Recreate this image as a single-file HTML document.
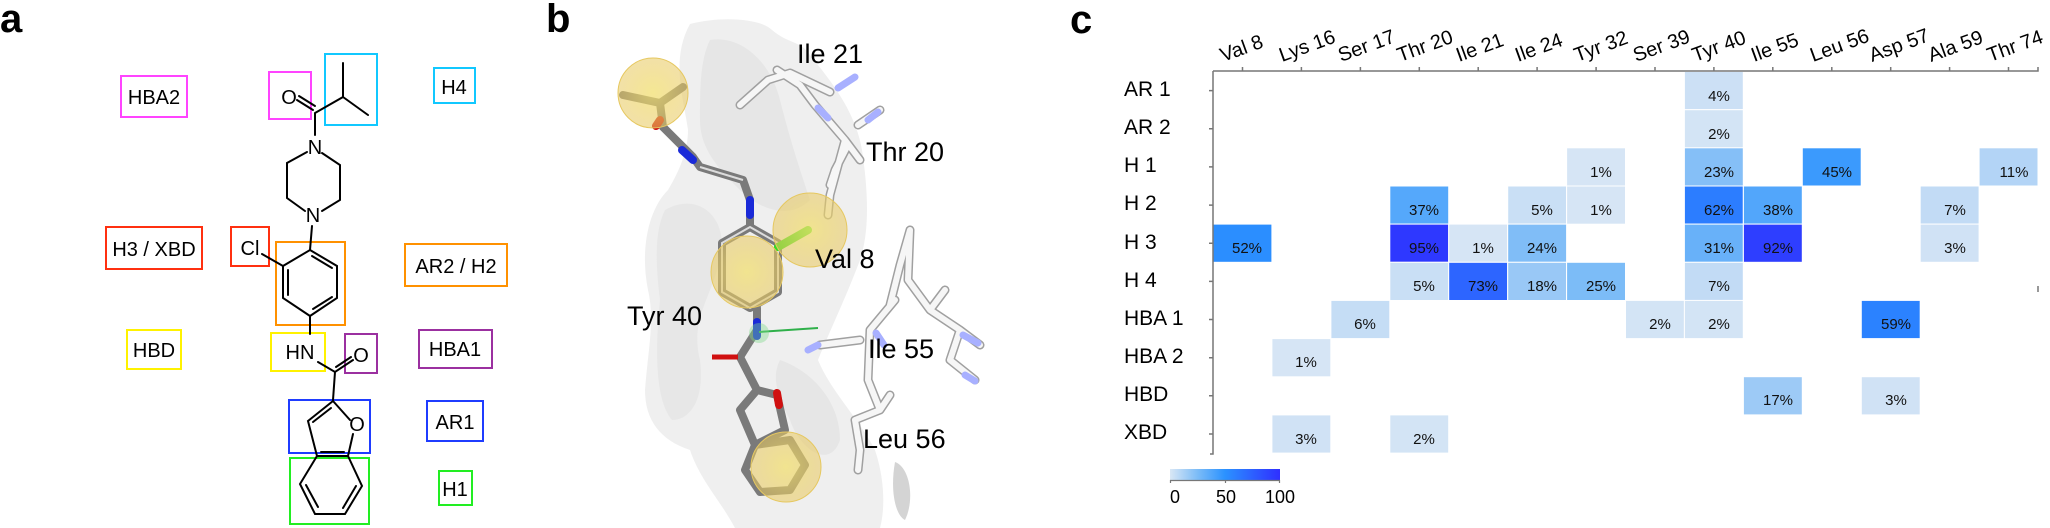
<!DOCTYPE html>
<html><head><meta charset="utf-8"><style>
html,body{margin:0;padding:0;background:#fff;}
svg{display:block;}
text{font-family:"Liberation Sans",Arial,sans-serif;}
.v{font-family:"DejaVu Sans",sans-serif;font-size:15px;fill:#111;}
</style></head><body>
<svg width="2050" height="528" viewBox="0 0 2050 528" xmlns="http://www.w3.org/2000/svg">
<defs>
<linearGradient id="cb" x1="0" x2="1" y1="0" y2="0">
<stop offset="0" stop-color="#d9e7f5"/><stop offset="0.25" stop-color="#7cbcf7"/><stop offset="0.5" stop-color="#2b92ff"/><stop offset="0.75" stop-color="#2d60ff"/><stop offset="1" stop-color="#2f2fff"/>
</linearGradient>
<radialGradient id="ys" cx="0.5" cy="0.5" r="0.5"><stop offset="0" stop-color="#f2e070" stop-opacity="0.75"/><stop offset="1" stop-color="#e8c860" stop-opacity="0.55"/></radialGradient>
</defs>

<text x="0" y="32" font-size="40" font-weight="bold">a</text>
<text x="546" y="32" font-size="40" font-weight="bold">b</text>
<text x="1070" y="33" font-size="40" font-weight="bold">c</text>

<!-- ============ PANEL A ============ -->
<g fill="none" stroke-width="2">
<rect x="121" y="76" width="66" height="41" stroke="#ff44ff"/>
<rect x="269" y="72" width="42" height="47" stroke="#ff44ff"/>
<rect x="325" y="54" width="52" height="71" stroke="#11c8ff"/>
<rect x="434" y="68" width="41" height="35" stroke="#11c8ff"/>
<rect x="106" y="227" width="96" height="42" stroke="#ff3010"/>
<rect x="231" y="227" width="38" height="39" stroke="#ff3010"/>
<rect x="276" y="242" width="69" height="83" stroke="#ff9100"/>
<rect x="405" y="244" width="102" height="42" stroke="#ff9100"/>
<rect x="127" y="330" width="54" height="39" stroke="#fff200"/>
<rect x="271" y="333" width="54" height="38" stroke="#fff200"/>
<rect x="345" y="334" width="32" height="39" stroke="#9b30a0"/>
<rect x="419" y="330" width="73" height="38" stroke="#9b30a0"/>
<rect x="289" y="400" width="81" height="53" stroke="#1f3cff"/>
<rect x="427" y="401" width="56" height="40" stroke="#1f3cff"/>
<rect x="290" y="458" width="79" height="66" stroke="#22ee22"/>
<rect x="439" y="471" width="33" height="34" stroke="#22ee22"/>
</g>
<g font-size="20" fill="#000" text-anchor="middle">
<text x="154" y="104">HBA2</text>
<text x="454" y="94">H4</text>
<text x="154" y="256">H3 / XBD</text>
<text x="456" y="273">AR2 / H2</text>
<text x="154" y="357">HBD</text>
<text x="455" y="356">HBA1</text>
<text x="455" y="429">AR1</text>
<text x="455" y="496">H1</text>
<text x="289" y="104">O</text>
<text x="315" y="154">N</text>
<text x="313" y="222">N</text>
<text x="250" y="255">Cl</text>
<text x="300" y="359">HN</text>
<text x="361" y="362">O</text>
<text x="357" y="431">O</text>
</g>
<g stroke="#000" stroke-width="2" fill="none" stroke-linecap="round">
<path d="M297 100 L313 110 M299 96 L315 106"/>
<path d="M315 113 L343 97 L343 63 M343 97 L368 115 M315 113 L315 135"/>
<path d="M322 153 L340 165 L340 200 L322 211 M305 211 L287 198 L287 163 L307 152"/>
<path d="M312 226 L310 250"/>
<path d="M310 250 L337 266 L337 298 L310 316 L283 298 L283 266 Z"/>
<path d="M312 256 L332 268 M288 270 L288 295 M313 309 L332 297"/>
<path d="M283 266 L262 254"/>
<path d="M310 316 L310 334"/>
<path d="M318 362 L335 372 L353 360 M336 367 L351 357 M335 372 L333 400"/>
<path d="M333 401 L308 421 L317 456 L348 456 L353 434 M350 420 L333 401 M313 422 L331 408 M321 452 L344 452"/>
<path d="M317 456 L300 484 L315 514 L345 514 L362 486 L348 456 M306 485 L318 507 M356 486 L343 508"/>
</g>

<!-- ============ PANEL B ============ -->
<g>
<path d="M690 24 C720 16 760 18 772 30 C790 45 800 40 810 55 C830 80 855 110 862 150 C868 190 870 230 860 260 C845 300 830 330 818 360 C830 390 860 420 875 450 C885 480 885 510 880 528 L735 528 C720 500 700 480 690 450 C660 440 645 420 645 390 C648 350 655 320 648 290 C640 250 648 210 668 190 C680 170 688 150 688 130 C684 100 670 60 690 24 Z" fill="#efefef"/>
<path d="M710 40 C740 35 770 60 780 100 C790 140 800 170 810 200 C790 220 760 210 740 190 C720 170 700 150 700 120 C700 90 700 60 710 40 Z" fill="#e2e2e2" opacity="0.7"/>
<path d="M665 210 C700 190 730 220 720 260 C710 300 690 320 700 360 C705 400 690 420 672 420 C655 400 655 350 660 300 C655 260 655 230 665 210 Z" fill="#e4e4e4" opacity="0.7"/>
<path d="M895 462 C910 467 915 500 905 520 C895 515 890 490 895 462 Z" fill="#d4d4d4"/>
<path d="M780 360 C810 370 840 400 840 440 C830 470 800 450 790 420 C780 400 770 380 780 360 Z" fill="#e2e2e2" opacity="0.7"/>
</g>
<g stroke="#a0a0a0" stroke-width="9" stroke-linecap="round" stroke-linejoin="round" fill="none">
<path d="M740 105 L768 80 L790 73 M777 70 L800 85 L815 105 L845 140 L860 160 M790 73 L830 92 M858 125 L880 110 M848 145 L835 170 L830 185 M845 140 L830 195 L828 215"/>
<path d="M890 305 L900 265 L910 230 M910 230 L908 280 L930 310 L945 290 M930 310 L960 330 L980 345 M960 330 L950 360 L975 380 M895 300 L870 330 L868 380 L880 410 L855 420 L860 450 L858 470 M880 410 L890 395 M860 340 L820 345"/>
</g>
<g stroke="#f6f6f6" stroke-width="6" stroke-linecap="round" stroke-linejoin="round" fill="none">
<path d="M740 105 L768 80 L790 73 M777 70 L800 85 L815 105 L845 140 L860 160 M790 73 L830 92 M858 125 L880 110 M848 145 L835 170 L830 185 M845 140 L830 195 L828 215"/>
<path d="M890 305 L900 265 L910 230 M910 230 L908 280 L930 310 L945 290 M930 310 L960 330 L980 345 M960 330 L950 360 L975 380 M895 300 L870 330 L868 380 L880 410 L855 420 L860 450 L858 470 M880 410 L890 395 M860 340 L820 345"/>
</g>
<g stroke="#a8b0ff" stroke-width="7" stroke-linecap="round">
<path d="M818 108 L828 118 M838 88 L855 77 M868 120 L878 112 M963 335 L978 343 M965 375 L975 381 M818 345 L808 350 M876 333 L884 345"/>
</g>
<g stroke="#7a7a7a" stroke-width="8" stroke-linecap="round" stroke-linejoin="round" fill="none">
<path d="M623 95 L660 103 L683 87 M660 103 L663 127"/>
<path d="M663 127 L693 157 L700 167 L743 180 L750 200 L750 226"/>
<path d="M750 227 L778 243 L778 292 L750 308 L722 292 L722 243 Z"/>
<path d="M757 308 L757 330 L740 357 L757 390 L777 395 L785 430 M757 390 L740 410 L755 445 L785 430"/>
<path d="M755 445 L790 440 L805 465 L790 490 L760 492 L745 470 Z"/>
</g>
<g stroke="#dcdcdc" stroke-width="2" fill="none"><path d="M750 227 L778 243 L778 292 L750 308 L722 292 L722 243 Z"/><path d="M743 180 L700 167"/></g>
<g stroke-width="8" stroke-linecap="round">
<line x1="682" y1="150" x2="693" y2="160" stroke="#1a2ad8"/>
<line x1="750" y1="200" x2="750" y2="215" stroke="#1a2ad8"/>
<line x1="757" y1="322" x2="757" y2="336" stroke="#1a2ad8"/>
<line x1="660" y1="120" x2="656" y2="126" stroke="#cc1010"/>
<line x1="777" y1="393" x2="779" y2="405" stroke="#d01010"/>
<line x1="778" y1="247" x2="808" y2="230" stroke="#33dd22"/>
</g>
<line x1="712" y1="357" x2="738" y2="357" stroke="#d01010" stroke-width="5"/>
<line x1="759" y1="332" x2="818" y2="328" stroke="#2fb04a" stroke-width="2"/>
<circle cx="759" cy="333" r="10" fill="#7ed98a" opacity="0.4"/>
<g fill="url(#ys)" stroke="#e6c860" stroke-width="1">
<circle cx="653" cy="93" r="35"/>
<circle cx="810" cy="230" r="37"/>
<circle cx="747" cy="272" r="36"/>
<circle cx="786" cy="467" r="35"/>
</g>
<g font-size="27" fill="#000">
<text x="797" y="63">Ile 21</text>
<text x="866" y="161">Thr 20</text>
<text x="815" y="268">Val 8</text>
<text x="627" y="325">Tyr 40</text>
<text x="868" y="358">Ile 55</text>
<text x="863" y="448">Leu 56</text>
</g>

<!-- ============ PANEL C ============ -->
<g>
<g stroke="#fff" stroke-width="1">
<rect x="1684.4" y="71.5" width="58.9" height="38.2" fill="#cce0f5"/>
<rect x="1684.4" y="109.7" width="58.9" height="38.2" fill="#d3e4f5"/>
<rect x="1566.6" y="147.8" width="58.9" height="38.2" fill="#d6e5f5"/>
<rect x="1684.4" y="147.8" width="58.9" height="38.2" fill="#85bff7"/>
<rect x="1802.3" y="147.8" width="58.9" height="38.2" fill="#3b9afd"/>
<rect x="1979.1" y="147.8" width="58.9" height="38.2" fill="#b3d4f6"/>
<rect x="1389.8" y="186" width="58.9" height="38.2" fill="#55a8fb"/>
<rect x="1507.7" y="186" width="58.9" height="38.2" fill="#c9dff5"/>
<rect x="1566.6" y="186" width="58.9" height="38.2" fill="#d6e5f5"/>
<rect x="1684.4" y="186" width="58.9" height="38.2" fill="#2c7dff"/>
<rect x="1743.4" y="186" width="58.9" height="38.2" fill="#52a6fb"/>
<rect x="1920.2" y="186" width="58.9" height="38.2" fill="#c2dbf5"/>
<rect x="1213" y="224.1" width="58.9" height="38.2" fill="#2b8eff"/>
<rect x="1389.8" y="224.1" width="58.9" height="38.2" fill="#2e38ff"/>
<rect x="1448.7" y="224.1" width="58.9" height="38.2" fill="#d6e5f5"/>
<rect x="1507.7" y="224.1" width="58.9" height="38.2" fill="#80bdf7"/>
<rect x="1684.4" y="224.1" width="58.9" height="38.2" fill="#68b1f9"/>
<rect x="1743.4" y="224.1" width="58.9" height="38.2" fill="#2e3eff"/>
<rect x="1920.2" y="224.1" width="58.9" height="38.2" fill="#d0e2f5"/>
<rect x="1389.8" y="262.3" width="58.9" height="38.2" fill="#c9dff5"/>
<rect x="1448.7" y="262.3" width="58.9" height="38.2" fill="#2d65ff"/>
<rect x="1507.7" y="262.3" width="58.9" height="38.2" fill="#99c8f6"/>
<rect x="1566.6" y="262.3" width="58.9" height="38.2" fill="#7cbcf7"/>
<rect x="1684.4" y="262.3" width="58.9" height="38.2" fill="#c2dbf5"/>
<rect x="1330.9" y="300.4" width="58.9" height="38.2" fill="#c5ddf5"/>
<rect x="1625.5" y="300.4" width="58.9" height="38.2" fill="#d3e4f5"/>
<rect x="1684.4" y="300.4" width="58.9" height="38.2" fill="#d3e4f5"/>
<rect x="1861.3" y="300.4" width="58.9" height="38.2" fill="#2b82ff"/>
<rect x="1271.9" y="338.6" width="58.9" height="38.2" fill="#d6e5f5"/>
<rect x="1743.4" y="376.7" width="58.9" height="38.2" fill="#9dcaf6"/>
<rect x="1861.3" y="376.7" width="58.9" height="38.2" fill="#d0e2f5"/>
<rect x="1271.9" y="414.9" width="58.9" height="38.2" fill="#d0e2f5"/>
<rect x="1389.8" y="414.9" width="58.9" height="38.2" fill="#d3e4f5"/>
</g>
<g class="v" text-anchor="middle">
<text x="1719" y="101">4%</text>
<text x="1719" y="139">2%</text>
<text x="1601" y="177">1%</text><text x="1719" y="177">23%</text><text x="1837" y="177">45%</text><text x="2014" y="177">11%</text>
<text x="1424" y="215">37%</text><text x="1542" y="215">5%</text><text x="1601" y="215">1%</text><text x="1719" y="215">62%</text><text x="1778" y="215">38%</text><text x="1955" y="215">7%</text>
<text x="1247" y="253">52%</text><text x="1424" y="253">95%</text><text x="1483" y="253">1%</text><text x="1542" y="253">24%</text><text x="1719" y="253">31%</text><text x="1778" y="253">92%</text><text x="1955" y="253">3%</text>
<text x="1424" y="291">5%</text><text x="1483" y="291">73%</text><text x="1542" y="291">18%</text><text x="1601" y="291">25%</text><text x="1719" y="291">7%</text>
<text x="1365" y="329">6%</text><text x="1660" y="329">2%</text><text x="1719" y="329">2%</text><text x="1896" y="329">59%</text>
<text x="1306" y="367">1%</text>
<text x="1778" y="405">17%</text><text x="1896" y="405">3%</text>
<text x="1306" y="444">3%</text><text x="1424" y="444">2%</text>
</g>
<g stroke="#777" stroke-width="1.5" fill="none">
<path d="M1213 71 L2038 71 L2038 67"/>
<path d="M1213 71 L1213 454 L1210 454"/>
<path d="M1242.5 71v-4 M1301.4 71v-4 M1360.4 71v-4 M1419.3 71v-4 M1478.2 71v-4 M1537.1 71v-4 M1596.1 71v-4 M1655 71v-4 M1713.9 71v-4 M1772.8 71v-4 M1831.8 71v-4 M1890.7 71v-4 M1949.6 71v-4 M2008.5 71v-4"/>
<path d="M1213 90.6h-4 M1213 128.8h-4 M1213 166.9h-4 M1213 205.1h-4 M1213 243.2h-4 M1213 281.4h-4 M1213 319.5h-4 M1213 357.7h-4 M1213 395.8h-4 M1213 434h-4"/>
<path d="M2038 286v6"/>
</g>
<g font-size="20" fill="#000">
<text transform="translate(1223,62) rotate(-20)">Val 8</text>
<text transform="translate(1282,62) rotate(-20)">Lys 16</text>
<text transform="translate(1341,62) rotate(-20)">Ser 17</text>
<text transform="translate(1400,62) rotate(-20)">Thr 20</text>
<text transform="translate(1459,62) rotate(-20)">Ile 21</text>
<text transform="translate(1518,62) rotate(-20)">Ile 24</text>
<text transform="translate(1577,62) rotate(-20)">Tyr 32</text>
<text transform="translate(1636,62) rotate(-20)">Ser 39</text>
<text transform="translate(1695,62) rotate(-20)">Tyr 40</text>
<text transform="translate(1754,62) rotate(-20)">Ile 55</text>
<text transform="translate(1813,62) rotate(-20)">Leu 56</text>
<text transform="translate(1872,62) rotate(-20)">Asp 57</text>
<text transform="translate(1931,62) rotate(-20)">Ala 59</text>
<text transform="translate(1990,62) rotate(-20)">Thr 74</text>
</g>
<g font-size="21" fill="#000">
<text x="1124" y="96">AR 1</text>
<text x="1124" y="134">AR 2</text>
<text x="1124" y="172">H 1</text>
<text x="1124" y="210">H 2</text>
<text x="1124" y="249">H 3</text>
<text x="1124" y="287">H 4</text>
<text x="1124" y="325">HBA 1</text>
<text x="1124" y="363">HBA 2</text>
<text x="1124" y="401">HBD</text>
<text x="1124" y="439">XBD</text>
</g>
<rect x="1170" y="469" width="110" height="11" fill="url(#cb)"/>
<path d="M1170 480.5 H1280 M1170.5 480v3 M1225.5 480v3 M1279.5 480v3" stroke="#777" stroke-width="1.2" fill="none"/>
<g font-size="18" fill="#000" text-anchor="middle">
<text x="1175" y="503">0</text><text x="1226" y="503">50</text><text x="1280" y="503">100</text>
</g>
</g>
</svg>
</body></html>
